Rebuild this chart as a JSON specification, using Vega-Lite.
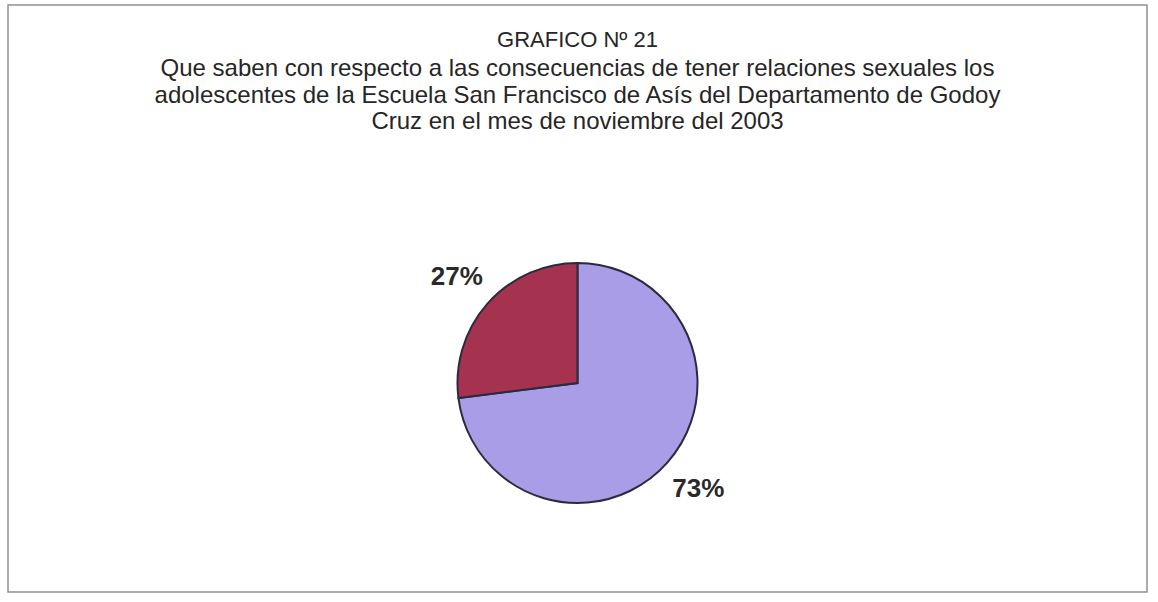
{
  "$schema": "https://vega.github.io/schema/vega-lite/v6.json",
  "width": 1158,
  "height": 602,
  "autosize": {"type": "fit", "contains": "padding"},
  "padding": {"left": 8, "top": 5, "right": 11, "bottom": 10},
  "background": "#ffffff",
  "view": {"stroke": "#909090", "strokeWidth": 1.5, "fill": "#ffffff"},
  "config": {
    "font": "Liberation Sans"
  },
  "title": {
    "text": "GRAFICO Nº 21",
    "subtitle": [
      "Que saben con respecto a las consecuencias de tener relaciones sexuales  los",
      "adolescentes de la Escuela San Francisco de Asís del Departamento de Godoy",
      "Cruz en el mes de noviembre del 2003"
    ],
    "anchor": "middle",
    "frame": "group",
    "orient": "top",
    "baseline": "top",
    "offset": -130,
    "font": "Liberation Sans",
    "fontSize": 22,
    "fontWeight": "normal",
    "color": "#262626",
    "subtitleFont": "Liberation Sans",
    "subtitleFontSize": 24,
    "subtitleColor": "#262626",
    "subtitleLineHeight": 26.5,
    "subtitlePadding": 5
  },
  "data": {
    "values": [
      {"respuesta": "Saben", "porcentaje": 73, "etiqueta": "73%"},
      {"respuesta": "No saben", "porcentaje": 27, "etiqueta": "27%"}
    ]
  },
  "encoding": {
    "theta": {"field": "porcentaje", "type": "quantitative", "stack": true},
    "order": {"field": "porcentaje", "type": "quantitative", "sort": "descending"}
  },
  "layer": [
    {
      "mark": {"type": "arc", "outerRadius": 120, "stroke": "#2b2b40", "strokeWidth": 2, "y": {"expr": "height*0.644"}},
      "encoding": {
        "color": {
          "field": "respuesta",
          "type": "nominal",
          "scale": {"domain": ["Saben", "No saben"], "range": ["#a99de7", "#a53350"]},
          "legend": null
        }
      }
    },
    {
      "mark": {"type": "text", "radius": 161, "fontSize": 26, "fontWeight": "bold", "font": "Liberation Sans", "color": "#2a2a2a", "y": {"expr": "height*0.644"}},
      "encoding": {
        "text": {"field": "etiqueta", "type": "nominal"},
        "detail": {"field": "respuesta", "type": "nominal"}
      }
    }
  ]
}
